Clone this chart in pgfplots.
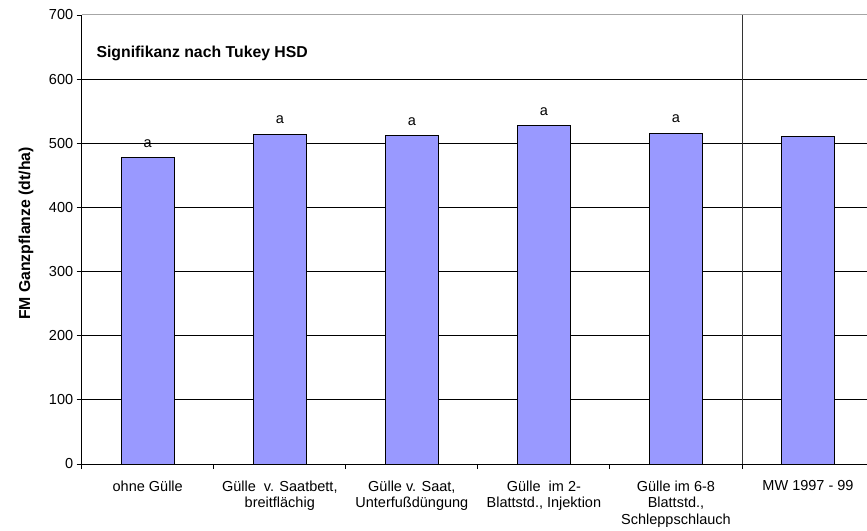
\documentclass[border=0pt]{standalone}
\usepackage{fontspec}
\setmainfont{Liberation Sans}
\usepackage{pgfplots}
\pgfplotsset{compat=1.18}
\definecolor{barblue}{HTML}{9999FF}
\newcommand\fs{\fontsize{14.5bp}{16.7bp}\selectfont}
\newcommand\fb{\fontsize{15.8bp}{18bp}\selectfont\bfseries}
\begin{document}
\begin{tikzpicture}
\path[use as bounding box] (-81.7bp,-67bp) rectangle (785.3bp,464bp);
\begin{axis}[
  at={(0,0)}, anchor=south west,
  scale only axis, width=785.3bp, height=449bp,
  xmin=-0.5, xmax=5.4466, ymin=0, ymax=700,
  axis x line*=bottom, axis y line*=left,
  axis line style={black, line width=0.9bp},
  /pgf/number format/assume math mode=true,
  tick label style={font=\fs},
  tick align=outside,
  major tick length=5bp,
  tick style={black, line width=0.9bp},
  ytick={0,100,...,600},
  extra y ticks={700},
  extra y tick style={major grid style={gray!70, line width=1bp}},
  ymajorgrids,
  major grid style={black, line width=0.9bp},
  xtick={-0.5,0.5,...,4.5},
  xticklabels={},
  extra x ticks={0,1,2,3,4,5},
  extra x tick labels={{ohne Gülle}, {Gülle\ \ v. Saatbett,\\breitflächig}, {Gülle v. Saat,\\Unterfußdüngung}, {Gülle\ \ im 2-\\Blattstd., Injektion}, {Gülle im 6-8\\Blattstd.,\\Schleppschlauch}, {MW 1997 - 99}},
  extra x tick style={major tick length=0pt, xticklabel style={align=center, anchor=north, yshift=-13bp}},
  xmajorgrids=false,
  ylabel={FM Ganzpflanze (dt/ha)},
  ylabel style={font=\fb, at={(axis description cs:-0.0709,0.5134)}, anchor=center},
  clip=false,
]
\addplot[ybar, bar width=0.4, fill=barblue, draw=black, line width=0.9bp,
  nodes near coords, point meta=explicit symbolic,
  every node near coord/.append style={font=\fs, black, yshift=6.5bp}]
  coordinates {(0,477.5)[a] (1,514)[a] (2,512)[a] (3,527.5)[a] (4,515.5)[a] (5,510)[]};
\draw[black!80, line width=0.9bp] (axis cs:4.5,0) -- (axis cs:4.5,700);
\node[anchor=base west, inner sep=0pt, font=\fb] at (axis cs:-0.389,633) {Signifikanz nach Tukey HSD};
\end{axis}
\end{tikzpicture}
\end{document}
